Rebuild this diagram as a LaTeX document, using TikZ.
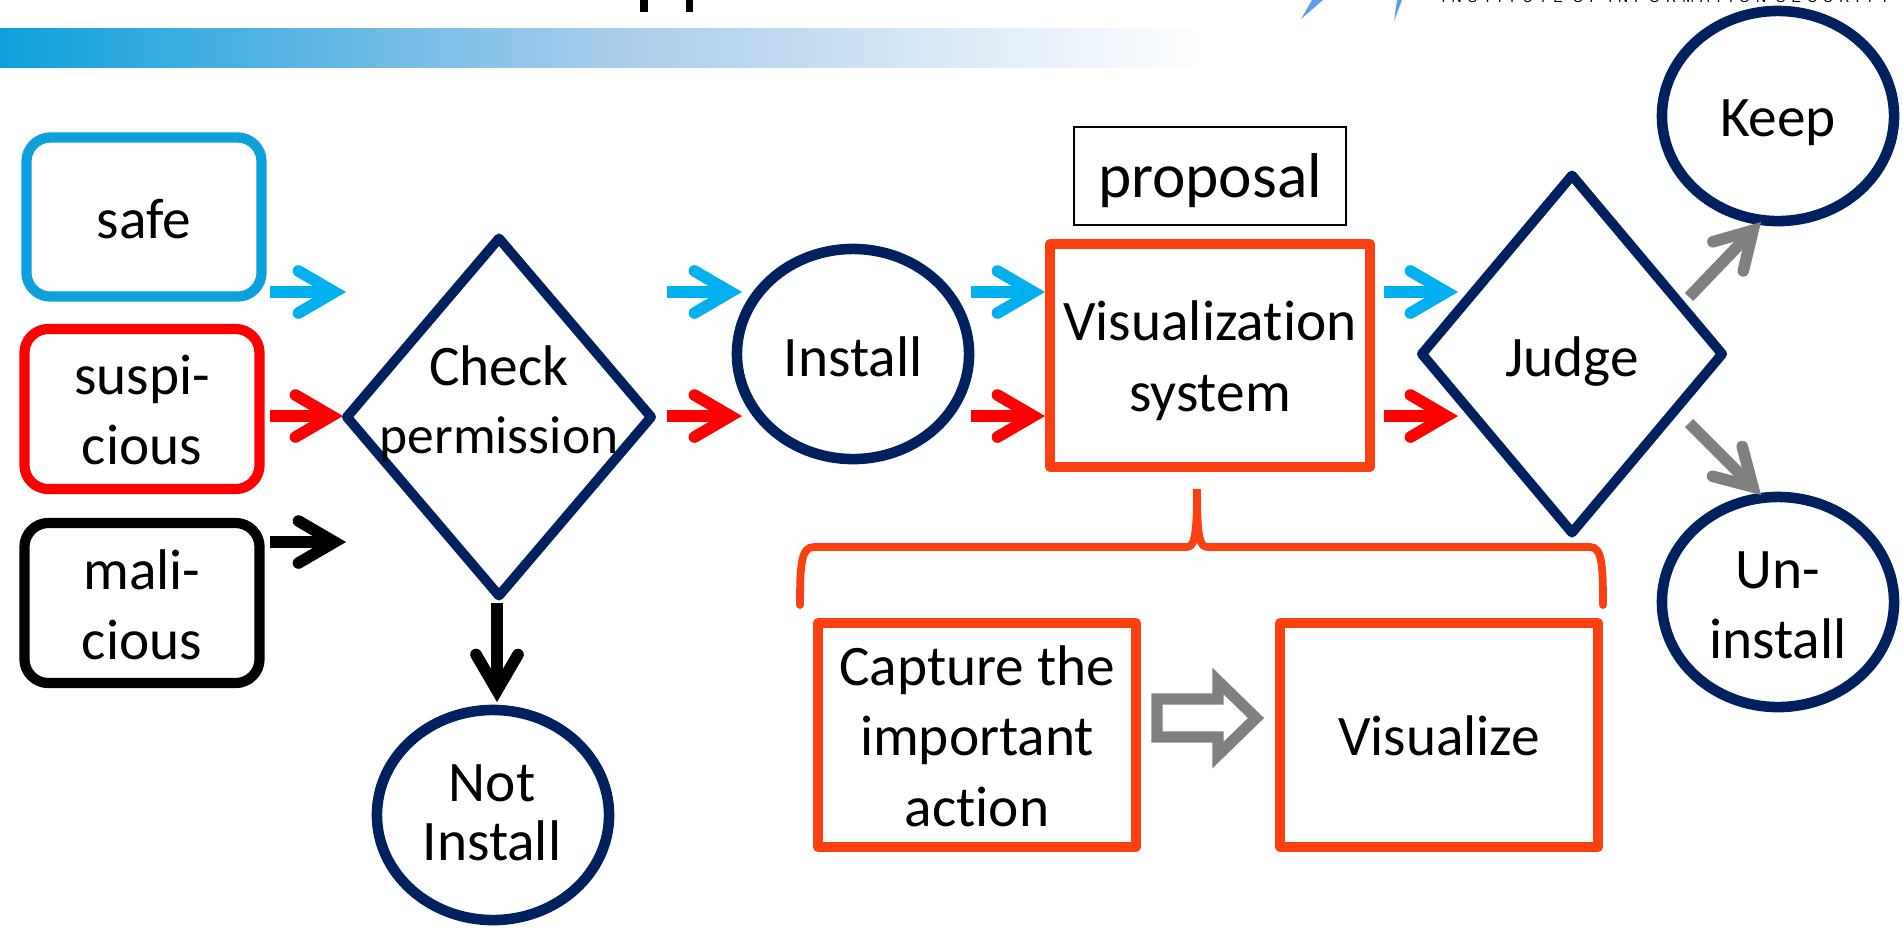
\documentclass[tikz,border=0pt]{standalone}
\usepackage{fontspec}
\setmainfont[Ligatures=NoCommon]{Carlito}
\newfontfamily\logofont[LetterSpace=43]{Liberation Sans}
\usetikzlibrary{arrows.meta,shapes.geometric}
\definecolor{navy}{HTML}{002060}
\definecolor{skyline}{HTML}{0EA0DC}
\definecolor{skyarrow}{HTML}{00B0F0}
\definecolor{barmid}{HTML}{A6CBEB}
\definecolor{logoblue}{HTML}{5A9FE8}
\definecolor{orangeline}{HTML}{FA4010}
\definecolor{greyline}{HTML}{808080}
\tikzset{
	label text/.style={font=\fontsize{16.3}{20}\selectfont,align=center,inner sep=0pt,outer sep=0pt},
	kind box/.style={rectangle,draw,line width=2.9pt,rounded corners=2.4mm,minimum width=23.5cm/10,minimum height=16mm,outer sep=0pt},
	action box/.style={rectangle,draw=orangeline,line width=2.7pt,line join=round,outer sep=0pt},
	end oval/.style={ellipse,draw=navy,line width=3pt,minimum width=23.2mm,minimum height=21mm,outer sep=0pt},
	test diamond/.style={diamond,draw=navy,line width=2.8pt,line join=round,inner sep=0pt,outer sep=0pt,shape aspect=0.85},
	flow/.style={line width=3.3pt,-{Straight Barb[length=3.6mm,width=4.2mm,line cap=round,line join=miter]}},
}
\begin{document}
\begin{tikzpicture}[x=0.01cm,y=-0.01cm]
		\useasboundingbox (0,0) rectangle (1903,929);
		\clip (0,0) rectangle (1903,929);
%		top strip
		\shade[left color=skyline,right color=white,middle color=barmid] (0,28) rectangle (1202,67);
		\fill (640,0) rectangle (648,12);
		\fill (686,0) rectangle (693,12);
		\fill[logoblue] (1312,0) -- (1323,0) -- (1301,19) -- cycle;
		\fill[logoblue] (1397,0) -- (1402,0) -- (1394,21) -- cycle;
		\path (1441,2.5) node(institute) [anchor=base west,inner sep=0pt] {\logofont\fontsize{4}{5}\selectfont INSTITUTE OF INFORMATION SECURITY};

		\path (144,217) node(safe) [kind box,minimum height=15.9mm,draw=skyline] {};
		\path (144,219.5) node(safe_text) [label text] {safe};
		\path (142,409) node(suspicious) [kind box,draw=red] {};
		\path (142,410.2) node(suspicious_text) [label text] {suspi-\\cious};
		\path (142,603) node(malicious) [kind box,draw=black] {};
		\path (142,604.8) node(malicious_text) [label text] {mali-\\cious};

		\path (499,417) node(check) [test diamond,minimum width=30.4mm,minimum height=35.7mm] {};
		\path (499,404) node(check_text) [label text] {Check\\[-0.6pt]\fontsize{15.2}{19.2}\selectfont permission};
		\path (493,815) node(not_install) [end oval] {};
		\path (492,812.8) node(not_install_text) [label text] {Not\\[-3pt]Install};
		\path (853,354) node(install) [end oval] {};
		\path (853,356.4) node(install_text) [label text] {Install};
		\path (1210,355.5) node(vis_system) [action box,minimum width=32mm,minimum height=22.3mm] {};
		\path (1210,361) node(vis_system_text) [label text] {Visualization\\[0.3pt]system};
		\path (1210,176) node(proposal) [rectangle,draw,line width=0.6pt,minimum width=27.2mm,minimum height=9.8mm,outer sep=0pt] {};
		\path (1210,180.8) node(proposal_text) [label text,font=\fontsize{18}{22}\selectfont] {proposal};
		\path (1572,354) node(judge) [test diamond,minimum width=30mm,minimum height=35.7mm] {};
		\path (1572,361.6) node(judge_text) [label text] {Judge};
		\path (1778,116) node(keep) [end oval] {};
		\path (1778,123) node(keep_text) [label text] {Keep};
		\path (1778,602) node(uninstall) [end oval] {};
		\path (1778,605.4) node(uninstall_text) [label text] {Un-\\install};
		\path (977,735) node(capture) [action box,minimum width=31.8mm,minimum height=22.35mm] {};
		\path (977,736.2) node(capture_text) [label text] {Capture the\\important\\action};
		\path (1439,735) node(visualize) [action box,minimum width=31.8mm,minimum height=22.35mm] {};
		\path (1439,736.2) node(visualize_text) [label text] {Visualize};

		\path (270,292) coordinate (safe_out);
		\path (346,292) coordinate (safe_in);
		\path (270,416) coordinate (susp_out);
		\path (343,416) coordinate (susp_in);
		\path (270,542) coordinate (mal_out);
		\path (346,542) coordinate (mal_in);
		\draw[flow,skyarrow] (safe_out) -- (safe_in);
		\draw[flow,red] (susp_out) -- (susp_in);
		\draw[flow,black] (mal_out) -- (mal_in);

		\path (667,292) coordinate (check_safe);
		\path (742,292) coordinate (install_safe);
		\path (667,416) coordinate (check_susp);
		\path (742,416) coordinate (install_susp);
		\draw[flow,skyarrow] (check_safe) -- (install_safe);
		\draw[flow,red] (check_susp) -- (install_susp);

		\path (971,292) coordinate (install_out);
		\path (1045,292) coordinate (vis_in);
		\path (971,416) coordinate (install_out2);
		\path (1045,416) coordinate (vis_in2);
		\draw[flow,skyarrow] (install_out) -- (vis_in);
		\draw[flow,red] (install_out2) -- (vis_in2);

		\path (1384,292) coordinate (vis_out);
		\path (1458,292) coordinate (judge_in);
		\path (1384,416) coordinate (vis_out2);
		\path (1458,416) coordinate (judge_in2);
		\draw[flow,skyarrow] (vis_out) -- (judge_in);
		\draw[flow,red] (vis_out2) -- (judge_in2);

		\path (497,603) coordinate (check_down);
		\path (497,702) coordinate (not_top);
		\draw[flow,black] (check_down) -- (not_top);

		\path (1689,297) coordinate (judge_up);
		\path (1761,222) coordinate (keep_low);
		\path (1689,423) coordinate (judge_down);
		\path (1761,495) coordinate (uninstall_top);
		\draw[flow,greyline] (judge_up) -- (keep_low);
		\draw[flow,greyline] (judge_down) -- (uninstall_top);

		\draw[orangeline,line width=2.2pt,line cap=round] (800,605) .. controls (800,565) and (801,547) .. (814,547) -- (1186,547) .. controls (1194,547) and (1197,540) .. (1197,489) .. controls (1197,540) and (1200,547) .. (1208,547) -- (1590,547) .. controls (1602,547) and (1603,565) .. (1603,605);
		\draw[greyline,line width=3.2pt] (1157,699) -- (1218,699) -- (1218,681) -- (1256,718) -- (1218,755) -- (1218,737) -- (1157,737) -- cycle;
	\end{tikzpicture}
\end{document}
